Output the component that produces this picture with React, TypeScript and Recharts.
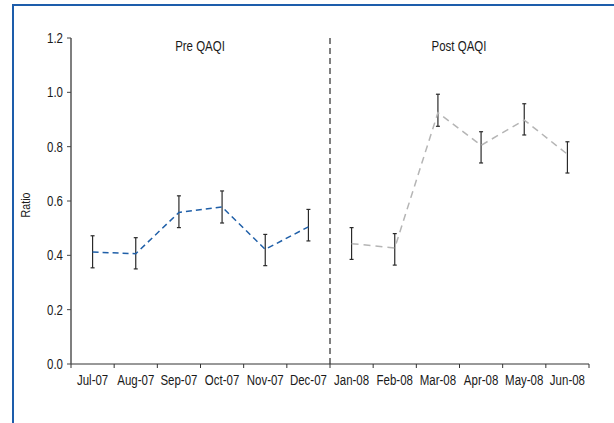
import React from 'react';
import { LineChart, Line, XAxis, YAxis, ErrorBar, ReferenceLine } from 'recharts';

const months = ['Jul-07', 'Aug-07', 'Sep-07', 'Oct-07', 'Nov-07', 'Dec-07', 'Jan-08', 'Feb-08', 'Mar-08', 'Apr-08', 'May-08', 'Jun-08'];
const preRatio = [0.412, 0.406, 0.558, 0.578, 0.422, 0.505];
const preLow = [0.354, 0.35, 0.502, 0.519, 0.362, 0.453];
const preHigh = [0.472, 0.465, 0.619, 0.637, 0.477, 0.569];
const postRatio = [0.443, 0.427, 0.925, 0.805, 0.898, 0.772];
const postLow = [0.385, 0.364, 0.875, 0.74, 0.843, 0.703];
const postHigh = [0.502, 0.48, 0.993, 0.855, 0.958, 0.818];
const yTicks = [0, 0.2, 0.4, 0.6, 0.8, 1.0, 1.2];

const W = 614;
const H = 423;
const PLOT_LEFT = 71;
const PLOT_RIGHT = 589;
const PLOT_TOP = 38;
const PLOT_BOTTOM = 364;
const BAND = (PLOT_RIGHT - PLOT_LEFT) / months.length;
const FONT = "'Liberation Sans', Arial, sans-serif";
const SQUEEZE = 0.82;

const data = months.map((m, i) => {
  const pre = i < 6 ? preRatio[i] : null;
  const post = i >= 6 ? postRatio[i - 6] : null;
  return {
    month: m,
    idx: i + 0.5,
    pre,
    preErr: pre !== null ? [pre - preLow[i], preHigh[i] - pre] : null,
    post,
    postErr: post !== null ? [post - postLow[i - 6], postHigh[i - 6] - post] : null,
  };
});

// condensed-looking text: the reference uses a narrow Helvetica
const NarrowText = ({ x, y, anchor, size, children, rotate }: any) => (
  <text
    transform={`translate(${x},${y})${rotate ? ` rotate(${rotate})` : ''} scale(${SQUEEZE},1)`}
    textAnchor={anchor}
    fontSize={size}
    fill="#1a1a1a"
    fontFamily={FONT}
  >
    {children}
  </text>
);

const MonthTick = (props: any) => {
  const { x, payload, index } = props;
  const left = x - BAND / 2;
  return (
    <g>
      <line x1={left} x2={left} y1={PLOT_BOTTOM} y2={PLOT_BOTTOM + 4} stroke="#333" />
      {index === months.length - 1 && (
        <line x1={left + BAND} x2={left + BAND} y1={PLOT_BOTTOM} y2={PLOT_BOTTOM + 4} stroke="#333" />
      )}
      <NarrowText x={x} y={PLOT_BOTTOM + 21} anchor="middle" size={14}>
        {payload.value}
      </NarrowText>
    </g>
  );
};

const RatioTick = (props: any) => {
  const { x, y, payload } = props;
  return (
    <NarrowText x={x - 2} y={y + 5} anchor="end" size={14}>
      {Number(payload.value).toFixed(1)}
    </NarrowText>
  );
};

const App: React.FC = () => {
  return (
    <div style={{ position: 'absolute', left: 0, top: 0, width: W, height: H, background: '#fff', overflow: 'hidden' }}>
      <div
        style={{
          position: 'absolute',
          left: 12,
          top: 4,
          width: W,
          height: H,
          borderLeft: '2px solid #1d5dab',
          borderTop: '2px solid #1d5dab',
        }}
      />
      <div style={{ position: 'absolute', left: 0, top: 0 }}>
        <LineChart
          width={W}
          height={H}
          data={data}
          margin={{ top: PLOT_TOP, right: W - PLOT_RIGHT, left: PLOT_LEFT - 40, bottom: H - PLOT_BOTTOM - 30 }}
        >
          <XAxis
            dataKey="month"
            scale="band"
            height={30}
            interval={0}
            tickLine={false}
            axisLine={{ stroke: '#333' }}
            tick={<MonthTick />}
          />
          <XAxis xAxisId="div" dataKey="idx" type="number" domain={[0, 12]} allowDataOverflow hide />
          <YAxis
            width={40}
            domain={[0, 1.2]}
            ticks={yTicks}
            tickSize={4}
            axisLine={{ stroke: '#555', strokeWidth: 1.5 }}
            tickLine={{ stroke: '#444' }}
            tick={<RatioTick />}
          />
          <ReferenceLine xAxisId="div" x={6} stroke="#555" strokeWidth={1.5} strokeDasharray="6 4" />
          <Line
            dataKey="pre"
            stroke="#1f5fa8"
            strokeWidth={1.5}
            strokeDasharray="6 4"
            dot={false}
            connectNulls={false}
            isAnimationActive={false}
          >
            <ErrorBar dataKey="preErr" direction="y" width={2} stroke="#2a2a2a" strokeWidth={1.2} />
          </Line>
          <Line
            dataKey="post"
            stroke="#b5b5b5"
            strokeWidth={1.5}
            strokeDasharray="7 5"
            dot={false}
            connectNulls={false}
            isAnimationActive={false}
          >
            <ErrorBar dataKey="postErr" direction="y" width={2} stroke="#2a2a2a" strokeWidth={1.2} />
          </Line>
          <g>
            <NarrowText x={30} y={205} anchor="middle" size={13} rotate={-90}>
              Ratio
            </NarrowText>
            <NarrowText x={200} y={51} anchor="middle" size={14}>
              Pre QAQI
            </NarrowText>
            <NarrowText x={459} y={51} anchor="middle" size={14}>
              Post QAQI
            </NarrowText>
          </g>
        </LineChart>
      </div>
    </div>
  );
};

export default App;
